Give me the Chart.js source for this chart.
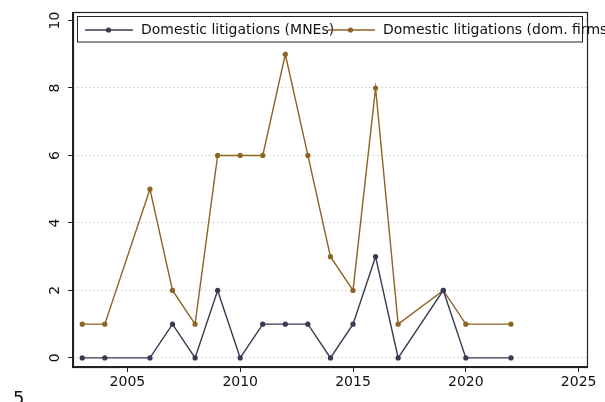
<!DOCTYPE html>
<html>
<head>
<meta charset="utf-8">
<script src="https://cdn.jsdelivr.net/npm/chart.js@4/dist/chart.umd.min.js"></script>
<style>
  html, body { margin: 0; padding: 0; background: #fff; }
  #wrap { position: relative; width: 605px; height: 402px; overflow: hidden; }
  canvas { display: block; }
</style>
</head>
<body>
<div id="wrap"><canvas id="c" width="605" height="402"></canvas></div>
<script>
// ---- data ----
const years = [2003, 2004, 2006, 2007, 2008, 2009, 2010, 2011, 2012, 2013, 2014, 2015, 2016, 2017, 2019, 2020, 2022];
const mneLitigations = [0, 0, 0, 1, 0, 2, 0, 1, 1, 1, 0, 1, 3, 0, 2, 0, 0];
const domLitigations = [1, 1, 5, 2, 1, 6, 6, 6, 9, 6, 3, 2, 8, 1, 2, 1, 1];
const seriesLabels = ['Domestic litigations (MNEs)', 'Domestic litigations (dom. firms)'];
const xTicks = [2005, 2010, 2015, 2020, 2025];
const yTicks = [0, 2, 4, 6, 8, 10];
const strayText = '5';

const NAVY = '#363a52';
const BROWN = '#8d6424';
const FONT = '"DejaVu Sans", sans-serif';

const toPoints = (vals) => years.map((yr, i) => ({ x: yr, y: vals[i] }));

const framePlugin = {
  id: 'frame',
  afterDraw(chart) {
    const { ctx, chartArea: a } = chart;
    ctx.save();
    // custom legend box
    const lx = 77.5, ly = 16.5, lw = 505, lh = 25.5;
    ctx.fillStyle = '#fff';
    ctx.fillRect(lx, ly, lw, lh);
    ctx.strokeStyle = '#222';
    ctx.lineWidth = 1;
    ctx.strokeRect(lx, ly, lw, lh);
    const entries = [
      { x0: 85, x1: 133, dot: 108.5, tx: 141 },
      { x0: 328, x1: 375, dot: 350.5, tx: 383 }
    ];
    const cy = 30;
    chart.data.datasets.forEach((ds, i) => {
      const e = entries[i];
      ctx.strokeStyle = ds.borderColor;
      ctx.lineWidth = 1.3;
      ctx.beginPath();
      ctx.moveTo(e.x0, cy);
      ctx.lineTo(e.x1, cy);
      ctx.stroke();
      ctx.fillStyle = ds.backgroundColor;
      ctx.beginPath();
      ctx.arc(e.dot, cy, 2.6, 0, Math.PI * 2);
      ctx.fill();
      ctx.fillStyle = '#111';
      ctx.font = '14px ' + FONT;
      ctx.textBaseline = 'middle';
      ctx.textAlign = 'left';
      ctx.fillText(ds.label, e.tx, cy + 0.5);
    });
    // plot frame
    ctx.strokeStyle = '#222';
    ctx.lineWidth = 1.2;
    ctx.strokeRect(Math.round(a.left) + 0.5, Math.round(a.top) + 0.5,
                   Math.round(a.right - a.left), Math.round(a.bottom - a.top));
    // stray text at bottom-left
    ctx.fillStyle = '#111';
    ctx.font = '18px ' + FONT;
    ctx.textBaseline = 'alphabetic';
    ctx.fillText(strayText, 13, 404);
    ctx.restore();
  }
};

new Chart(document.getElementById('c'), {
  type: 'line',
  data: {
    datasets: [
      {
        label: seriesLabels[0],
        data: toPoints(mneLitigations),
        borderColor: NAVY,
        backgroundColor: NAVY,
        borderWidth: 1.4,
        pointRadius: 2.6,
        pointBorderWidth: 0,
        pointHoverRadius: 2.6,
        tension: 0,
        order: 1
      },
      {
        label: seriesLabels[1],
        data: toPoints(domLitigations),
        borderColor: BROWN,
        backgroundColor: BROWN,
        borderWidth: 1.4,
        pointRadius: 2.6,
        pointBorderWidth: 0,
        pointHoverRadius: 2.6,
        tension: 0,
        order: 2
      }
    ]
  },
  options: {
    responsive: false,
    animation: false,
    devicePixelRatio: 1,
    layout: { padding: { left: 0, top: 12, right: 18, bottom: 0 } },
    plugins: { legend: { display: false }, tooltip: { enabled: false } },
    scales: {
      x: {
        type: 'linear',
        min: 2002.59,
        max: 2025.37,
        afterBuildTicks: (s) => { s.ticks = xTicks.map(v => ({ value: v })); },
        afterFit: (s) => { s.height = 35; },
        grid: { drawOnChartArea: false, drawTicks: true, tickLength: 5, tickColor: '#222', tickWidth: 1 },
        border: { display: true, color: '#222', width: 1.2 },
        ticks: {
          autoSkip: false,
          maxRotation: 0,
          padding: 2,
          color: '#111',
          font: { family: FONT, size: 14 },
          callback: (v) => String(v)
        }
      },
      y: {
        type: 'linear',
        min: -0.27,
        max: 10.24,
        afterBuildTicks: (s) => { s.ticks = yTicks.map(v => ({ value: v })); },
        afterFit: (s) => { s.width = 73; },
        grid: { drawOnChartArea: true, color: '#b4b4b4', lineWidth: 1, drawTicks: true, tickLength: 5, tickColor: '#222', tickWidth: 1 },
        border: { display: true, color: '#222', width: 1.2, dash: [1, 3] },
        ticks: {
          autoSkip: false,
          minRotation: 90,
          maxRotation: 90,
          crossAlign: 'center',
          padding: 4,
          color: '#111',
          font: { family: FONT, size: 14 }
        }
      }
    }
  },
  plugins: [framePlugin]
});
</script>
</body>
</html>
